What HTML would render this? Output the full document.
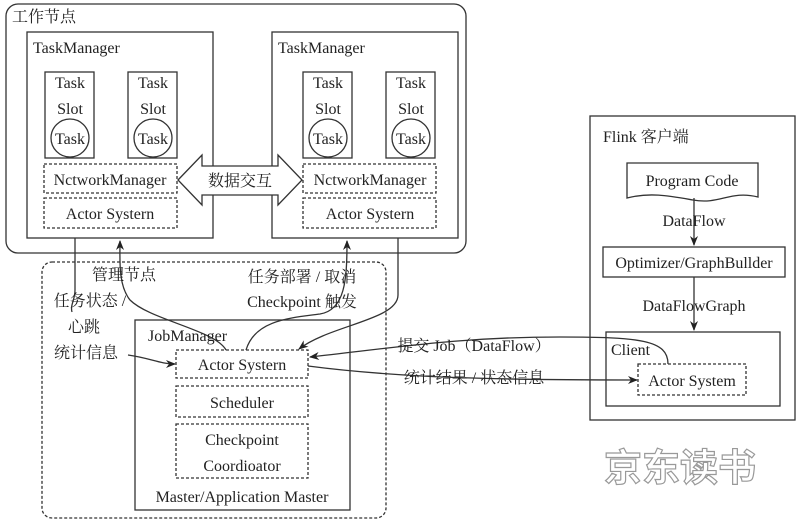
<!DOCTYPE html>
<html><head><meta charset="utf-8"><style>
body{margin:0;background:#fff}
svg{display:block}
text{font-family:"Liberation Serif","Noto Serif CJK SC",serif;fill:#222;font-size:16px}
</style></head><body>
<svg width="800" height="525" viewBox="0 0 800 525" xmlns="http://www.w3.org/2000/svg">
<defs><marker id="a" markerWidth="10" markerHeight="8" refX="9" refY="4" orient="auto" markerUnits="userSpaceOnUse"><path d="M0,0 L10,4 L0,8 L3,4 Z" fill="#222"/></marker></defs>
<g fill="none" stroke="#333" stroke-width="1.3">
<rect x="6" y="4" width="460" height="249" rx="12"/>
<rect x="27" y="32" width="186" height="206"/>
<rect x="272" y="32" width="186" height="206"/>
<rect x="45" y="72" width="49" height="86"/><rect x="128" y="72" width="49" height="86"/>
<rect x="303" y="72" width="49" height="86"/><rect x="386" y="72" width="49" height="86"/>
<circle cx="70" cy="138" r="19"/><circle cx="153" cy="138" r="19"/>
<circle cx="328" cy="138" r="19"/><circle cx="411" cy="138" r="19"/>
<g stroke-dasharray="3,2">
<rect x="44" y="164" width="133" height="29"/><rect x="44" y="198" width="133" height="30"/>
<rect x="303" y="164" width="133" height="29"/><rect x="303" y="198" width="133" height="30"/>
<rect x="42" y="262" width="344" height="256" rx="10"/>
<rect x="176" y="350" width="132" height="28"/><rect x="176" y="386" width="132" height="31"/><rect x="176" y="424" width="132" height="54"/>
<rect x="638" y="364" width="108" height="31"/>
</g>
<path d="M178,180 L202,155 L202,166 L278,166 L278,155 L302,180 L278,205 L278,195 L202,195 L202,205 Z" fill="#fff"/>
<rect x="135" y="320" width="215" height="190"/>
<rect x="590" y="116" width="205" height="304"/>
<path d="M627,163 H758 V197 C730,190 720,205 693,200 C670,196 650,192 627,198 Z"/>
<rect x="603" y="247" width="182" height="30"/>
<rect x="606" y="332" width="174" height="74"/>
<path d="M75,238 V290 C75,300 70,305 72,312"/>
<path d="M128,355 C150,358 160,364 175,364" marker-end="url(#a)"/>
<path d="M226,350 C215,330 150,320 130,300 C118,285 120,260 120,241" marker-end="url(#a)"/>
<path d="M246,350 C255,320 290,318 320,314 C345,310 347,280 347,241" marker-end="url(#a)"/>
<path d="M398,238 V295 C398,320 330,325 299,349" marker-end="url(#a)"/>
<path d="M694,198 V245" marker-end="url(#a)"/>
<path d="M694,277 V330" marker-end="url(#a)"/>
<path d="M668,364 C668,340 640,337 560,337 C460,337 400,347 310,357" marker-end="url(#a)"/>
<path d="M308,366 C400,378 500,380 637,380" marker-end="url(#a)"/>
</g>
<text x="12" y="22">工作节点</text>
<text x="33" y="53">TaskManager</text><text x="278" y="53">TaskManager</text>
<g text-anchor="middle">
<text x="70" y="88">Task</text><text x="70" y="114">Slot</text><text x="70" y="144">Task</text>
<text x="153" y="88">Task</text><text x="153" y="114">Slot</text><text x="153" y="144">Task</text>
<text x="328" y="88">Task</text><text x="328" y="114">Slot</text><text x="328" y="144">Task</text>
<text x="411" y="88">Task</text><text x="411" y="114">Slot</text><text x="411" y="144">Task</text>
<text x="110" y="185">NctworkManager</text><text x="110" y="219">Actor Systern</text>
<text x="370" y="185">NctworkManager</text><text x="370" y="219">Actor Systern</text>
<text x="240" y="186">数据交互</text>
<text x="242" y="370">Actor Systern</text><text x="242" y="408">Scheduler</text>
<text x="242" y="445">Checkpoint</text><text x="242" y="471">Coordioator</text>
<text x="242" y="502">Master/Application Master</text>
<text x="124" y="280">管理节点</text>
<text x="302" y="282">任务部署 / 取消</text><text x="302" y="307">Checkpoint 触发</text>
<text x="90" y="306">任务状态 /</text><text x="84" y="332">心跳</text><text x="86" y="358">统计信息</text>
<text x="692" y="186">Program Code</text><text x="694" y="226">DataFlow</text>
<text x="694" y="268">Optimizer/GraphBullder</text><text x="694" y="311">DataFlowGraph</text>
<text x="692" y="386">Actor System</text>
<text x="474" y="351">提交 Job（DataFlow）</text><text x="474" y="383">统计结果 / 状态信息</text>
</g>
<text x="148" y="341">JobManager</text>
<text x="603" y="142">Flink 客户端</text>
<text x="611" y="355">Client</text>
<text x="680" y="481" text-anchor="middle" style="font-family:'Noto Sans CJK SC',sans-serif;font-size:38px;font-weight:bold;fill:#fff;stroke:#999;stroke-width:1.2">京东读书</text>
</svg>
</body></html>
